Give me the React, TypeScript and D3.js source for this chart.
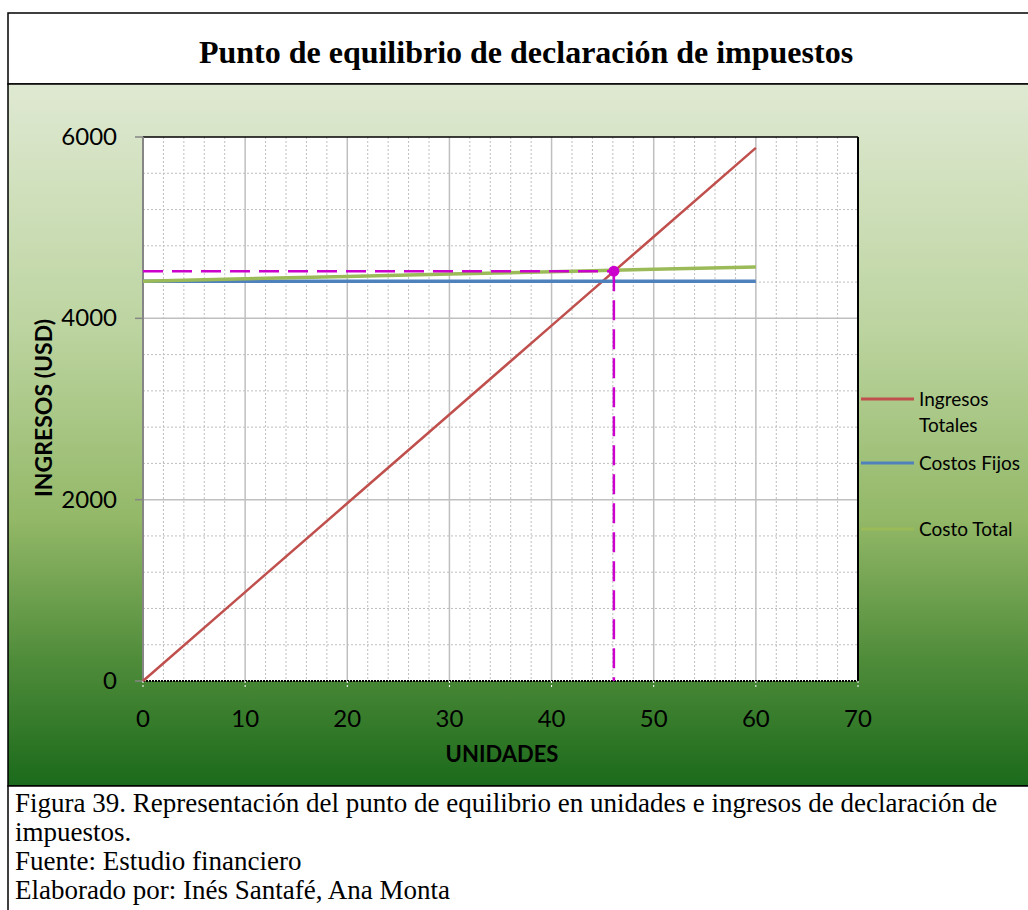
import React from 'react';
import * as d3 from 'd3';

// data
const unidades = [0, 10, 20, 30, 40, 50, 60];
const ingresosTotales = [0, 980, 1960, 2940, 3920, 4900, 5880];
const costosFijos = [4410, 4410, 4410, 4410, 4410, 4410, 4410];
const costoTotal = [4410, 4436, 4462, 4488, 4514, 4540, 4566];
const equilibrio = { unidades: 46.1, ingresos: 4520 };

const xTicks = [0, 10, 20, 30, 40, 50, 60, 70];
const yTicks = [0, 2000, 4000, 6000];

const series = [
  { name: 'Ingresos Totales', lines: ['Ingresos', 'Totales'], values: ingresosTotales, color: '#c0504d' },
  { name: 'Costos Fijos', lines: ['Costos Fijos'], values: costosFijos, color: '#4f81bd' },
  { name: 'Costo Total', lines: ['Costo Total'], values: costoTotal, color: '#9bbb59' },
];

const W = 1028;
const H = 910;
const plot = { left: 143, right: 858, top: 137, bottom: 681 };
const sans = 'Lato, "Open Sans", sans-serif';
const serif = '"Liberation Serif", "Times New Roman", serif';

export default function App() {
  const x = d3.scaleLinear().domain([0, 70]).range([plot.left, plot.right]);
  const y = d3.scaleLinear().domain([0, 6000]).range([plot.bottom, plot.top]);

  const minorX = d3.range(0, 70.01, 2).filter(v => v % 10 !== 0);
  const minorY = d3.range(0, 6000.01, 400).filter(v => v % 2000 !== 0);

  const line = (vals: number[]) =>
    d3.line<number>().x((_, i) => x(unidades[i])).y(d => y(d))(vals) || '';

  const legendY = [399, 463, 529];

  return (
    <svg width={W} height={H} style={{ position: 'absolute', left: 0, top: 0 }}>
      <defs>
        <linearGradient id="bg" x1="0" y1="0" x2="0" y2="1">
          <stop offset="0%" stopColor="#dfe9d2" />
          <stop offset="35%" stopColor="#bcd4a0" />
          <stop offset="62%" stopColor="#93b867" />
          <stop offset="82%" stopColor="#4f8c3a" />
          <stop offset="100%" stopColor="#1b6a1b" />
        </linearGradient>
      </defs>
      <rect x={0} y={0} width={W} height={H} fill="#fff" />

      {/* title box */}
      <rect x={8} y={13} width={W} height={71} fill="#fff" stroke="#000" strokeWidth={1.5} />
      <text x={526} y={63} textAnchor="middle" fontFamily={serif} fontWeight="bold" fontSize={32}>
        Punto de equilibrio de declaración de impuestos
      </text>

      {/* chart area */}
      <rect x={8} y={84} width={W} height={702} fill="url(#bg)" stroke="#000" strokeWidth={1.5} />
      <rect x={plot.left} y={plot.top} width={plot.right - plot.left} height={plot.bottom - plot.top} fill="#fff" />

      {/* minor grid */}
      {minorX.map(v => (
        <line key={'mx' + v} x1={x(v)} x2={x(v)} y1={plot.top} y2={plot.bottom}
          stroke="#bfbfbf" strokeWidth={1} strokeDasharray="2,2" />
      ))}
      {minorY.map(v => (
        <line key={'my' + v} x1={plot.left} x2={plot.right} y1={y(v)} y2={y(v)}
          stroke="#bfbfbf" strokeWidth={1} strokeDasharray="2,2" />
      ))}
      {/* major grid */}
      {xTicks.slice(1, -1).map(v => (
        <line key={'gx' + v} x1={x(v)} x2={x(v)} y1={plot.top} y2={plot.bottom}
          stroke="#bfbfbf" strokeWidth={1.5} />
      ))}
      {yTicks.slice(1, -1).map(v => (
        <line key={'gy' + v} x1={plot.left} x2={plot.right} y1={y(v)} y2={y(v)}
          stroke="#bfbfbf" strokeWidth={1.5} />
      ))}

      {/* plot borders */}
      <line x1={plot.left} x2={plot.right} y1={plot.top} y2={plot.top} stroke="#000" strokeWidth={1.5} />
      <line x1={plot.right} x2={plot.right} y1={plot.top} y2={plot.bottom} stroke="#000" strokeWidth={2} />
      <line x1={plot.left} x2={plot.left} y1={plot.top} y2={plot.bottom} stroke="#868686" strokeWidth={2} />
      <line x1={plot.left} x2={plot.right} y1={plot.bottom} y2={plot.bottom} stroke="#000" strokeWidth={2} strokeDasharray="2,1" />

      {/* y axis ticks */}
      {yTicks.map(v => (
        <g key={'yt' + v}>
          <line x1={plot.left - 8} x2={plot.left} y1={y(v)} y2={y(v)} stroke="#868686" strokeWidth={1.5} />
          <text x={117} y={y(v) + 8} textAnchor="end" fontFamily={sans} fontSize={24} fill="#000">{v}</text>
        </g>
      ))}
      {/* x axis ticks */}
      {xTicks.map(v => (
        <g key={'xt' + v}>
          <line x1={x(v)} x2={x(v)} y1={plot.bottom} y2={plot.bottom + 8} stroke="#fff" strokeWidth={1} strokeDasharray="2,2" />
          <text x={x(v)} y={727} textAnchor="middle" fontFamily={sans} fontSize={24} fill="#000">{v}</text>
        </g>
      ))}

      <text x={502} y={762} textAnchor="middle" fontFamily={sans} fontWeight="bold" fontSize={22}>UNIDADES</text>
      <text transform={`translate(52, 408) rotate(-90)`} textAnchor="middle" fontFamily={sans} fontWeight="bold" fontSize={23}>
        INGRESOS (USD)
      </text>

      {/* series lines */}
      {series.map(s => (
        <path key={s.name} d={line(s.values)} fill="none" stroke={s.color} strokeWidth={s.name === 'Ingresos Totales' ? 2.5 : 3.5} />
      ))}

      {/* break-even guides */}
      <line x1={plot.left} x2={x(equilibrio.unidades)} y1={y(equilibrio.ingresos)} y2={y(equilibrio.ingresos)}
        stroke="#cc00cc" strokeWidth={2.5} strokeDasharray="20,9" />
      <line x1={x(equilibrio.unidades)} x2={x(equilibrio.unidades)} y1={y(equilibrio.ingresos)} y2={plot.bottom}
        stroke="#cc00cc" strokeWidth={2.5} strokeDasharray="20,9" />
      <circle cx={x(equilibrio.unidades)} cy={y(equilibrio.ingresos)} r={5.5} fill="#cc00cc" />

      {/* legend */}
      {series.map((s, i) => (
        <g key={'lg' + s.name}>
          <line x1={861} x2={914} y1={legendY[i]} y2={legendY[i]} stroke={s.color} strokeWidth={3} />
          {s.lines.map((t, j) => (
            <text key={t} x={919} y={legendY[i] + 7 + j * 26} fontFamily={sans} fontSize={19} fill="#000">{t}</text>
          ))}
        </g>
      ))}

      {/* caption */}
      <rect x={8} y={786} width={W} height={130} fill="#fff" stroke="#000" strokeWidth={1.5} />
      {[
        'Figura 39. Representación del punto de equilibrio en unidades e ingresos de declaración de',
        'impuestos.',
        'Fuente: Estudio financiero',
        'Elaborado por: Inés Santafé, Ana Monta',
      ].map((t, i) => (
        <text key={i} x={15} y={812 + i * 29} fontFamily={serif} fontSize={27} fill="#000">{t}</text>
      ))}
    </svg>
  );
}
